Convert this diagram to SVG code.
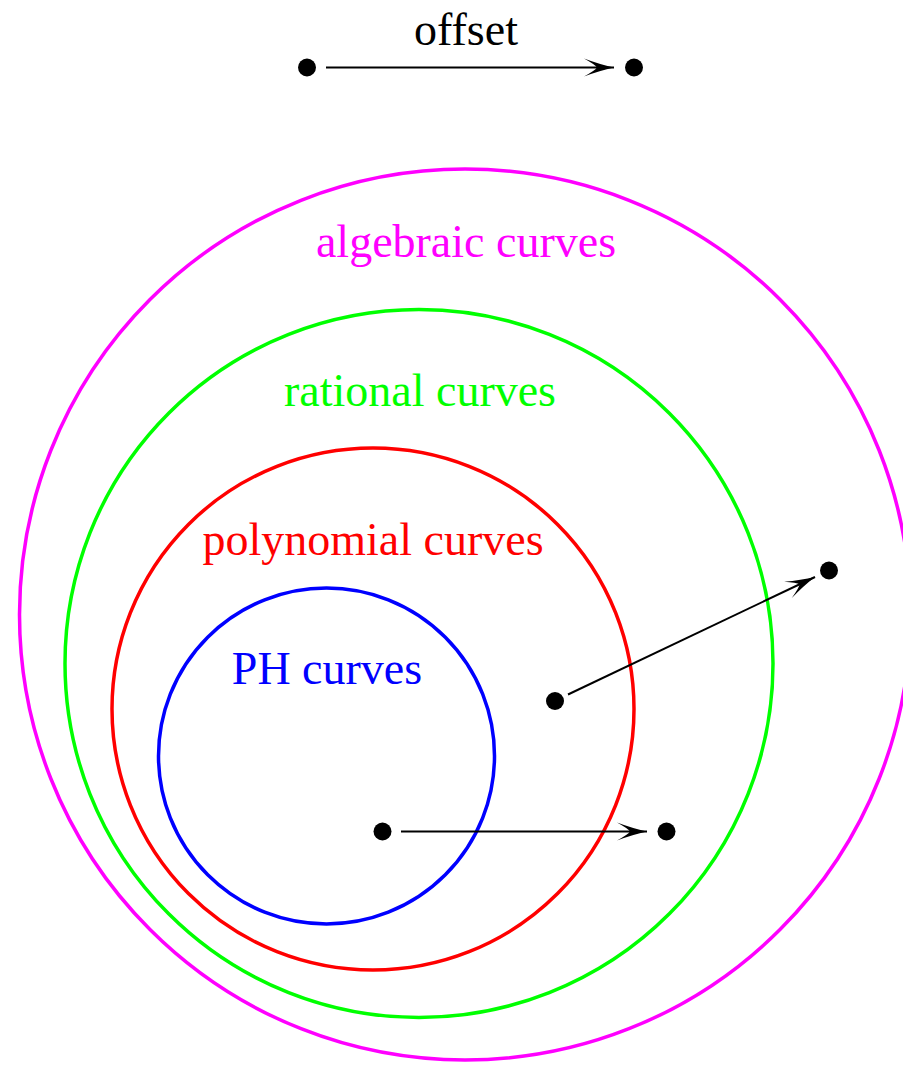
<svg xmlns="http://www.w3.org/2000/svg" width="903" height="1067" viewBox="0 0 903 1067">
<style>
.c{fill:none;stroke-width:3.5}
.t{font-family:"Liberation Serif","DejaVu Serif",serif;font-size:46px;text-anchor:middle}
.dot{fill:#000}
.arr{stroke:#000;stroke-width:2;fill:none}
</style>
<defs>
<marker id="ah" viewBox="-32 -10 34 20" refX="0" refY="0" markerWidth="34" markerHeight="20" markerUnits="userSpaceOnUse" orient="auto">
<path d="M0,0 Q-14,-3 -30,-9 Q-19,-3 -17,0 Q-19,3 -30,9 Q-14,3 0,0 Z" fill="#000"/>
</marker>
</defs>
<rect width="903" height="1067" fill="#fff"/>
<g id="algebraic"><circle class="c" cx="465" cy="614.5" r="445.5" stroke="#ff00ff"/><text class="t" x="466" y="257" fill="#ff00ff">algebraic curves</text></g>
<g id="rational"><circle class="c" cx="419" cy="663.5" r="354" stroke="#00ff00"/><text class="t" x="420" y="406" fill="#00ff00">rational curves</text></g>
<g id="polynomial"><circle class="c" cx="373" cy="709" r="261" stroke="#ff0000"/><text class="t" x="373" y="555" fill="#ff0000">polynomial curves</text></g>
<g id="ph"><circle class="c" cx="326.5" cy="756" r="168" stroke="#0000ff"/><text class="t" x="327" y="684" fill="#0000ff">PH curves</text></g>
<g id="offset-label"><text class="t" x="466" y="45" fill="#000">offset</text></g>
<g id="points">
<circle class="dot" cx="307" cy="67.5" r="9"/>
<circle class="dot" cx="634" cy="67.5" r="9"/>
<circle class="dot" cx="555" cy="701" r="9"/>
<circle class="dot" cx="829" cy="570.5" r="9"/>
<circle class="dot" cx="382.5" cy="831.5" r="9"/>
<circle class="dot" cx="666.5" cy="831.5" r="9"/>
</g>
<g id="connectors">
<line class="arr" x1="326" y1="67.5" x2="614" y2="67.5" marker-end="url(#ah)"/>
<line class="arr" x1="568" y1="694.5" x2="815" y2="577" marker-end="url(#ah)"/>
<line class="arr" x1="401" y1="831.5" x2="647" y2="831.5" marker-end="url(#ah)"/>
</g>
</svg>
